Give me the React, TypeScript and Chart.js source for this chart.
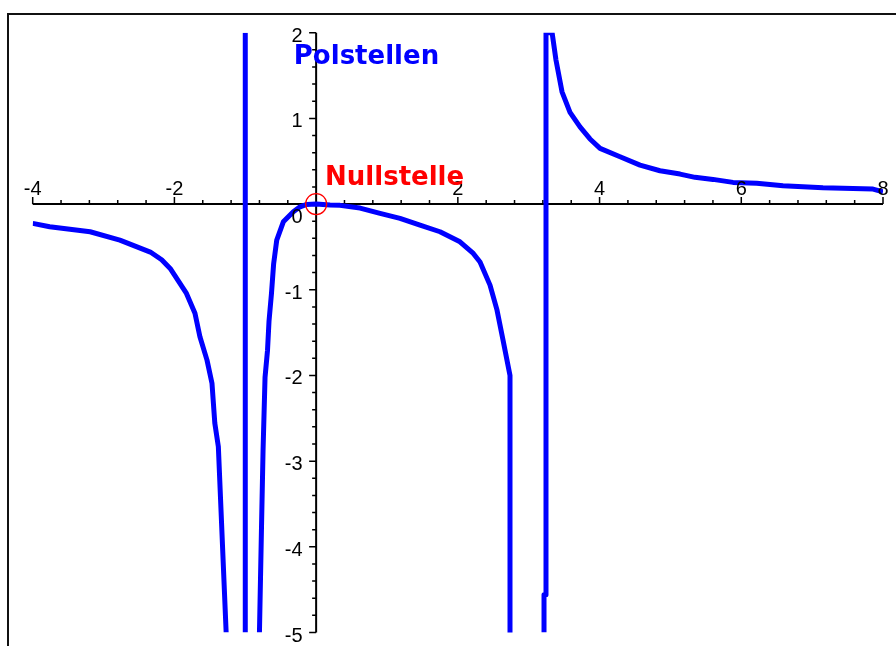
import React, { useEffect, useRef } from 'react';
import { Chart, registerables } from 'chart.js';

Chart.register(...registerables);

// axis ranges
const xMin = -4;
const xMax = 8;
const yMin = -5;
const yMax = 2;
const xMinorStep = 0.4;
const yMinorStep = 0.2;
const xMajorEvery = 2;
const yMajorEvery = 1;

// left branch (x < -1)
const leftX = [-4.0, -3.76, -3.19, -2.77, -2.34, -2.18, -2.06, -1.83, -1.71, -1.64, -1.54, -1.47, -1.43, -1.38, -1.27];
const leftY = [-0.225, -0.265, -0.323, -0.42, -0.56, -0.65, -0.751, -1.043, -1.273, -1.549, -1.821, -2.09, -2.557, -2.83, -5];

// first pole line
const pole1X = [-1, -1];
const pole1Y = [-5, 2];

// middle branch (-1 < x < 3.2)
const midX = [-0.8, -0.771, -0.749, -0.721, -0.686, -0.665, -0.63, -0.6, -0.556, -0.463, -0.322, -0.227, -0.133, 0, 0.196, 0.337, 0.62, 0.902, 1.184, 1.466, 1.748, 2.03, 2.218, 2.313, 2.454, 2.553, 2.638, 2.736, 2.736];
const midY = [-5, -3.77, -2.87, -2.02, -1.705, -1.366, -1.04, -0.7, -0.42, -0.207, -0.09, -0.032, -0.004, 0, -0.012, -0.015, -0.047, -0.109, -0.167, -0.245, -0.323, -0.44, -0.576, -0.677, -0.946, -1.238, -1.588, -2.0, -5];

// second pole line and right branch
const rightX = [3.216, 3.216, 3.244, 3.244, 3.33, 3.385, 3.47, 3.583, 3.724, 3.865, 4.007, 4.289, 4.571, 4.853, 5.136, 5.347, 5.601, 5.883, 6.218, 6.589, 7.153, 7.859, 8.0];
const rightY = [-5, -4.56, -4.56, 2, 2, 1.68, 1.31, 1.07, 0.9, 0.76, 0.65, 0.552, 0.455, 0.389, 0.35, 0.312, 0.288, 0.253, 0.242, 0.214, 0.19, 0.175, 0.144];

// zero marker
const zeroX = [0];
const zeroY = [0];

// annotations
const noteTexts = ['Polstellen', 'Nullstelle'];
const noteX = [-0.315, 0.126];
const noteY = [1.629, 0.222];
const noteColors = ['#0000ff', '#ff0000'];

const toPoints = (xs: number[], ys: number[]) => xs.map((x, i) => ({ x, y: ys[i] }));

const isMultiple = (v: number, m: number) => Math.abs(v / m - Math.round(v / m)) < 1e-6;

const TICK_FONT = '20px "Liberation Sans", Arial, sans-serif';
const NOTE_FONT = 'bold 26px "DejaVu Sans", sans-serif';

const mapleAxes = {
  id: 'mapleAxes',
  beforeDatasetsDraw(chart: any) {
    const { ctx } = chart;
    const xs = chart.scales.x;
    const ys = chart.scales.y;
    const x0 = xs.getPixelForValue(0);
    const y0 = ys.getPixelForValue(0);
    ctx.save();
    ctx.strokeStyle = '#000';
    ctx.lineWidth = 2;
    ctx.beginPath();
    ctx.moveTo(xs.getPixelForValue(xMin), y0);
    ctx.lineTo(xs.getPixelForValue(xMax), y0);
    ctx.moveTo(x0, ys.getPixelForValue(yMax));
    ctx.lineTo(x0, ys.getPixelForValue(yMin));
    ctx.stroke();
    ctx.lineWidth = 1.5;
    ctx.beginPath();
    xs.ticks.forEach((t: any) => {
      const v = t.value;
      if (Math.abs(v) < 1e-9) return;
      const px = xs.getPixelForValue(v);
      const len = isMultiple(v, xMajorEvery) ? 7 : 4;
      ctx.moveTo(px, y0);
      ctx.lineTo(px, y0 - len);
    });
    ys.ticks.forEach((t: any) => {
      const v = t.value;
      if (Math.abs(v) < 1e-9) return;
      const py = ys.getPixelForValue(v);
      const len = isMultiple(v, yMajorEvery) ? 7 : 4;
      ctx.moveTo(x0, py);
      ctx.lineTo(x0 - len, py);
    });
    ctx.stroke();
    ctx.restore();
  },
  afterDatasetsDraw(chart: any) {
    const { ctx } = chart;
    const xs = chart.scales.x;
    const ys = chart.scales.y;
    const x0 = xs.getPixelForValue(0);
    const y0 = ys.getPixelForValue(0);
    ctx.save();
    ctx.fillStyle = '#000';
    ctx.font = TICK_FONT;
    ctx.textBaseline = 'alphabetic';
    ctx.textAlign = 'center';
    xs.ticks.forEach((t: any) => {
      const v = t.value;
      if (Math.abs(v) < 1e-9 || !isMultiple(v, xMajorEvery)) return;
      ctx.fillText(String(Math.round(v)), xs.getPixelForValue(v), y0 - 9.5);
    });
    ctx.textAlign = 'right';
    ys.ticks.forEach((t: any) => {
      const v = t.value;
      if (!isMultiple(v, yMajorEvery)) return;
      const py = ys.getPixelForValue(v);
      const shift = Math.abs(v) < 1e-9 ? 11.7 : 2;
      ctx.fillText(String(Math.round(v)), x0 - 13.5, py + shift + 7);
    });
    ctx.font = NOTE_FONT;
    ctx.textAlign = 'left';
    noteTexts.forEach((txt, i) => {
      ctx.fillStyle = noteColors[i];
      ctx.fillText(txt, xs.getPixelForValue(noteX[i]), ys.getPixelForValue(noteY[i]));
    });
    ctx.restore();
  },
};

const curveStyle = {
  borderColor: '#0000ff',
  borderWidth: 5,
  pointRadius: 0,
  showLine: true,
  fill: false,
  tension: 0,
  borderJoinStyle: 'round' as const,
};

export default function App() {
  const ref = useRef<HTMLCanvasElement | null>(null);
  useEffect(() => {
    if (!ref.current) return;
    const chart = new Chart(ref.current, {
      type: 'scatter',
      data: {
        datasets: [
          {
            data: toPoints(zeroX, zeroY),
            pointRadius: 10.5,
            pointStyle: 'circle',
            pointBorderColor: '#ff0000',
            pointBackgroundColor: 'rgba(0,0,0,0)',
            pointBorderWidth: 1.3,
            showLine: false,
          },
          { data: toPoints(leftX, leftY), ...curveStyle },
          { data: toPoints(pole1X, pole1Y), ...curveStyle },
          { data: toPoints(midX, midY), ...curveStyle },
          { data: toPoints(rightX, rightY), ...curveStyle },
        ],
      },
      options: {
        animation: false,
        responsive: false,
        devicePixelRatio: 1,
        layout: { padding: { left: 32.7, right: 13, top: 32.7, bottom: 13.5 } },
        plugins: { legend: { display: false }, tooltip: { enabled: false } },
        events: [],
        scales: {
          x: { type: 'linear', display: false, min: xMin, max: xMax, ticks: { stepSize: xMinorStep, autoSkip: false } },
          y: { type: 'linear', display: false, min: yMin, max: yMax, ticks: { stepSize: yMinorStep, autoSkip: false } },
        },
      },
      plugins: [mapleAxes],
    });
    return () => chart.destroy();
  }, []);
  return (
    <div style={{ position: 'fixed', left: 0, top: 0, width: 896, height: 646, background: '#fff', overflow: 'hidden' }}>
      <div style={{ position: 'absolute', left: 7, top: 13, right: 0, bottom: 0, borderTop: '2px solid #111', borderLeft: '2px solid #111' }} />
      <canvas ref={ref} width={896} height={646} style={{ position: 'absolute', left: 0, top: 0, width: 896, height: 646 }} />
    </div>
  );
}
